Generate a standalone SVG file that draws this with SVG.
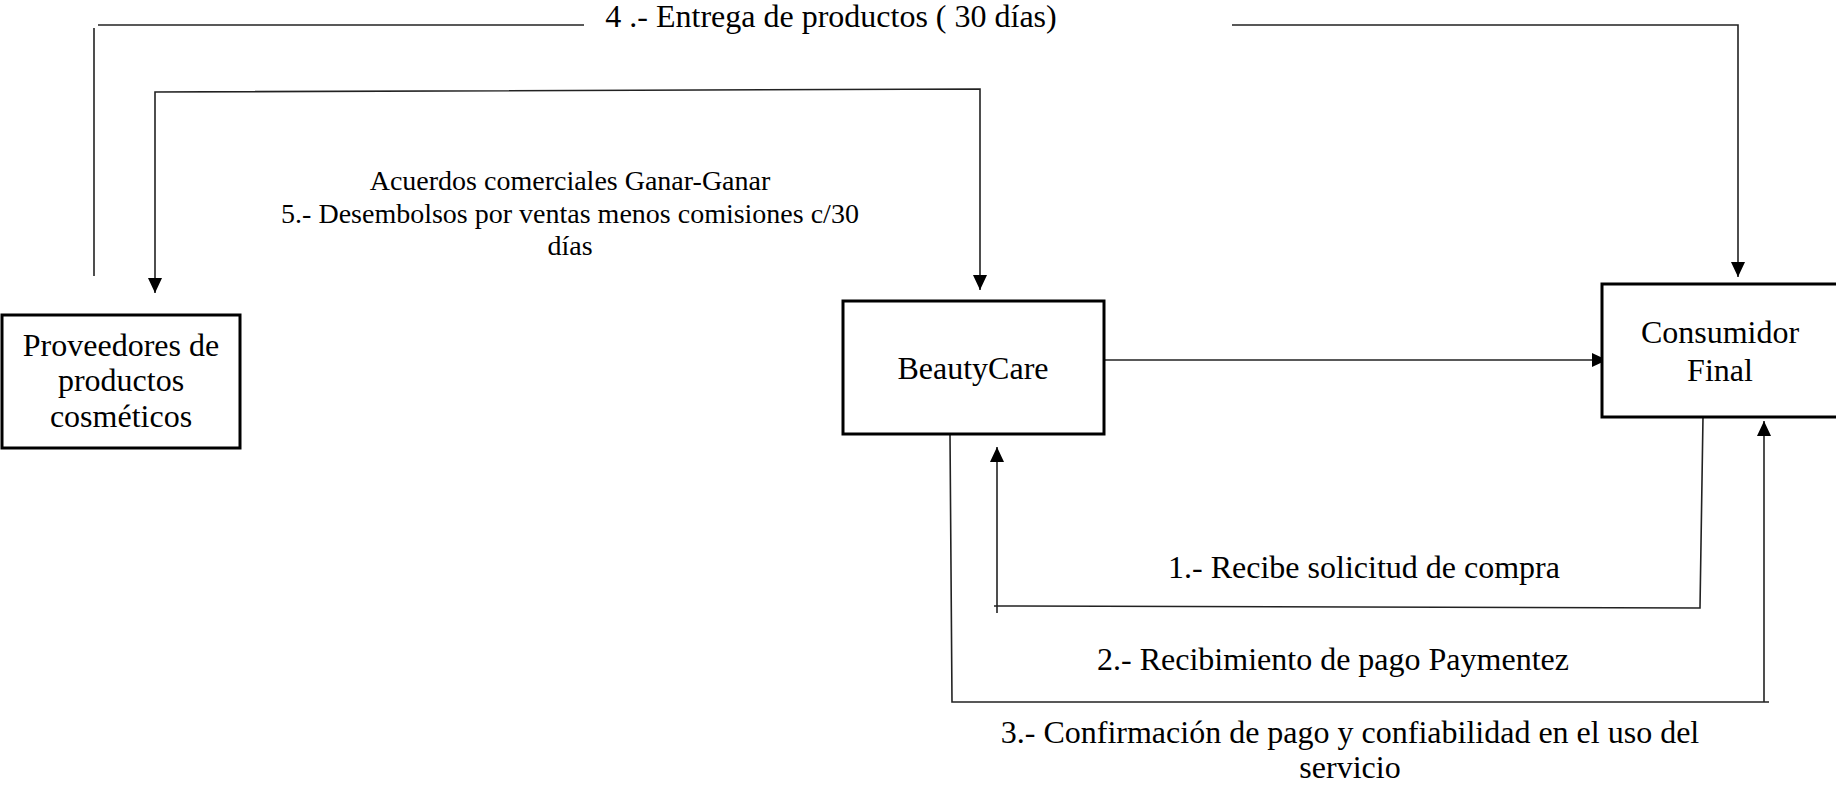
<svg xmlns="http://www.w3.org/2000/svg" width="1836" height="786" viewBox="0 0 1836 786">
  <style>
    .box { fill: #ffffff; stroke: #000000; stroke-width: 3; }
    .wire { fill: none; stroke: #222222; stroke-width: 1.6; }
    text { font-family: "Liberation Serif", "Times New Roman", serif; font-size: 32px; fill: #000000; text-anchor: middle; }
    text.s { font-size: 28px; }
  </style>
  <defs>
    <marker id="arrow" markerUnits="userSpaceOnUse" markerWidth="16" markerHeight="14" refX="15" refY="7" orient="auto-start-reverse">
      <path d="M0,0 L15,7 L0,14 z" fill="#000000"/>
    </marker>
  </defs>

  <rect width="1836" height="786" fill="#ffffff"/>

  <!-- connectors -->
  <g id="connectors">
    <!-- 4: delivery of products -->
    <path class="wire" d="M94,28 V276"/>
    <path class="wire" d="M98,25 H584"/>
    <path class="wire" d="M1232,25 H1738 V277" marker-end="url(#arrow)"/>
    <!-- 5: disbursements / commercial agreements -->
    <path class="wire" d="M155,293 V92 L980,89 V290" marker-start="url(#arrow)" marker-end="url(#arrow)"/>
    <!-- BeautyCare to consumer -->
    <path class="wire" d="M1104,360 H1607" marker-end="url(#arrow)"/>
    <!-- 1: purchase request -->
    <path class="wire" d="M1703,417 L1700,608 L994,606"/>
    <path class="wire" d="M997,613 V447" marker-end="url(#arrow)"/>
    <!-- 2 / 3: payment and confirmation -->
    <path class="wire" d="M950,434 L952,702 H1769"/>
    <path class="wire" d="M1764,702 V421" marker-end="url(#arrow)"/>
  </g>

  <!-- connector labels -->
  <g id="labels">
    <text x="831" y="27">4 .- Entrega de productos ( 30 días)</text>
    <text class="s" x="570" y="190">Acuerdos comerciales Ganar-Ganar</text>
    <text class="s" x="570" y="223">5.- Desembolsos por ventas menos comisiones c/30</text>
    <text class="s" x="570" y="255">días</text>
    <text x="1364" y="578">1.- Recibe solicitud de compra</text>
    <text x="1333" y="670">2.- Recibimiento de pago Paymentez</text>
    <text x="1350" y="743">3.- Confirmación de pago y confiabilidad en el uso del</text>
    <text x="1350" y="778">servicio</text>
  </g>

  <g id="proveedores">
    <rect class="box" x="2" y="315" width="238" height="133"/>
    <text x="121" y="356">Proveedores de</text>
    <text x="121" y="391">productos</text>
    <text x="121" y="427">cosméticos</text>
  </g>

  <g id="beautycare">
    <rect class="box" x="843" y="301" width="261" height="133"/>
    <text x="973" y="379">BeautyCare</text>
  </g>

  <g id="consumidor">
    <rect class="box" x="1602" y="284" width="250" height="133"/>
    <text x="1720" y="343">Consumidor</text>
    <text x="1720" y="381">Final</text>
  </g>
</svg>
